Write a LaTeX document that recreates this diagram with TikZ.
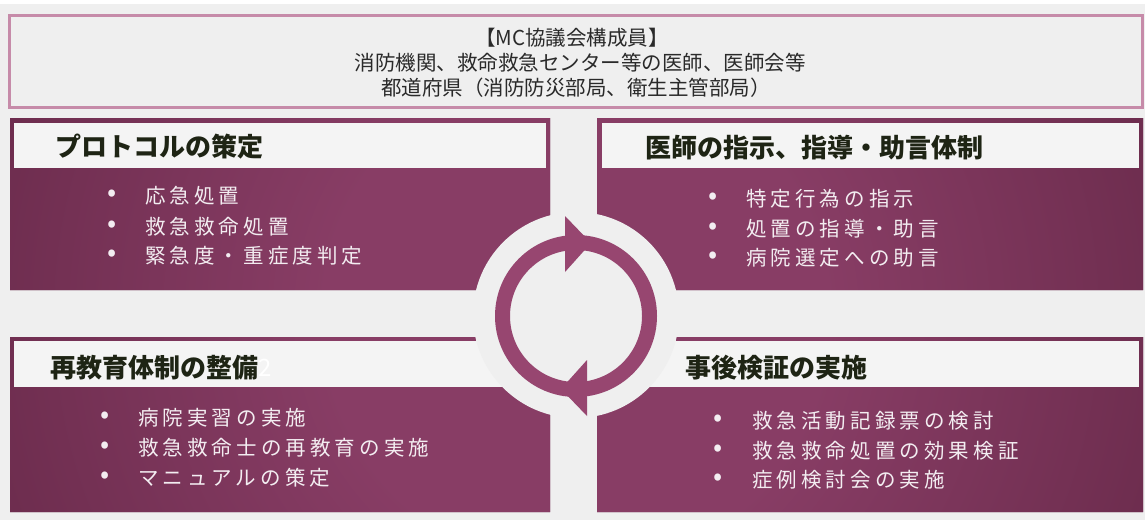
\documentclass[tikz,border=0pt]{standalone}
\usepackage{fontspec}
\setmainfont{Noto Sans CJK JP}
\newfontfamily\bodyfont{Noto Sans CJK JP}[LetterSpace=20]
\definecolor{bg}{HTML}{EFEFEF}
\definecolor{topborder}{HTML}{C68BA9}
\definecolor{pdark}{HTML}{672949}
\definecolor{plight}{HTML}{883D65}
\definecolor{ringc}{HTML}{974670}
\definecolor{hdrfill}{HTML}{F4F4F4}
\definecolor{hdrtext}{HTML}{1E2414}
\definecolor{bodytext}{HTML}{F3EDF1}
\definecolor{toptext}{HTML}{2A2A2A}
\pgfdeclareradialshading{panelshade}{\pgfpoint{0bp}{0bp}}{color(0bp)=(plight); color(8bp)=(plight); color(22bp)=(pdark); color(50bp)=(pdark)}
\begin{document}
\begin{tikzpicture}[x=1pt,y=-1pt,
  hdr/.style={anchor=west, inner sep=0pt, text=hdrtext, font=\fontsize{26}{30}\selectfont\bfseries},
  itm/.style={anchor=west, inner sep=0pt, text=bodytext, font=\bodyfont\fontsize{20.5}{24}\selectfont},
  bul/.style={inner sep=0pt, text=bodytext, font=\fontsize{27}{30}\selectfont},
  toptxt/.style={inner sep=0pt, text=toptext, font=\fontsize{20.5}{24}\selectfont},
  hdrbox/.style={fill=hdrfill},
  arrowtri/.style={fill=ringc}]
\useasboundingbox (0,0) rectangle (1145,520);
\fill[bg] (0,0) rectangle (1145,520);
\fill[white] (0,0) rectangle (1145,4);
% top box
\draw[topborder, line width=3pt, fill=bg] (9,15) rectangle (1142,107);
\node[toptxt] (t1) at (572,38) {【MC協議会構成員】};
\node[toptxt] (t2) at (580,63) {消防機関、救命救急センター等の医師、医師会等};
\node[toptxt] (t3) at (576,88) {都道府県（消防防災部局、衛生主管部局）};
% panels with radial shading
\begin{scope}
  \clip (10,118) rectangle (550,290) (597,118) rectangle (1143,290)
        (10,337) rectangle (550,512) (597,337) rectangle (1143,512);
  \fill[pdark] (0,100) rectangle (1145,520);
  \shade[shading=panelshade] (576,316) circle[radius=780pt];
\end{scope}
% headers
\fill[hdrbox] (14,123) rectangle (546,168);
\fill[hdrbox] (602,123) rectangle (1139,168);
\fill[hdrbox] (14,341) rectangle (550,387);
\fill[hdrbox] (597,341) rectangle (1139,387);
% central circle and cycle arrows
\fill[bg] (576,315) circle[radius=103pt];
\draw[ringc, line width=15pt] (576,316) circle[radius=73.5pt];
\fill[arrowtri] (565,216) -- (591,243) -- (565,272) -- cycle;
\fill[arrowtri] (587,416) -- (561,389) -- (587,360) -- cycle;
% header texts
\node[hdr] (h1) at (55,147) {プロトコルの策定};
\node[hdr] (h2) at (645,148) {医師の指示、指導・助言体制};
\node[hdr] (h3) at (50,368) {再教育体制の整備};
\node[anchor=west, inner sep=0pt, text=white, font=\fontsize{24}{28}\selectfont] (h3x) at (h3.east) {2};
\node[hdr] (h4) at (685,368) {事後検証の実施};
% top-left items
\node[bul] (b11) at (112,196) {•};
\node[bul] (b12) at (112,227) {•};
\node[bul] (b13) at (112,256) {•};
\node[itm] (i11) at (145,196) {応急処置};
\node[itm] (i12) at (145,227) {救急救命処置};
\node[itm] (i13) at (145,256) {緊急度・重症度判定};
% top-right items
\node[bul] (b21) at (713,199) {•};
\node[bul] (b22) at (713,229) {•};
\node[bul] (b23) at (713,258) {•};
\node[itm] (i21) at (746,199) {特定行為の指示};
\node[itm] (i22) at (746,229) {処置の指導・助言};
\node[itm] (i23) at (746,258) {病院選定への助言};
% bottom-left items
\node[bul] (b31) at (105,418) {•};
\node[bul] (b32) at (105,448) {•};
\node[bul] (b33) at (105,478) {•};
\node[itm] (i31) at (138,418) {病院実習の実施};
\node[itm] (i32) at (138,448) {救急救命士の再教育の実施};
\node[itm] (i33) at (138,478) {マニュアルの策定};
% bottom-right items
\node[bul] (b41) at (718,421) {•};
\node[bul] (b42) at (718,451) {•};
\node[bul] (b43) at (718,480) {•};
\node[itm] (i41) at (752,421) {救急活動記録票の検討};
\node[itm] (i42) at (752,451) {救急救命処置の効果検証};
\node[itm] (i43) at (752,480) {症例検討会の実施};
\end{tikzpicture}
\end{document}
